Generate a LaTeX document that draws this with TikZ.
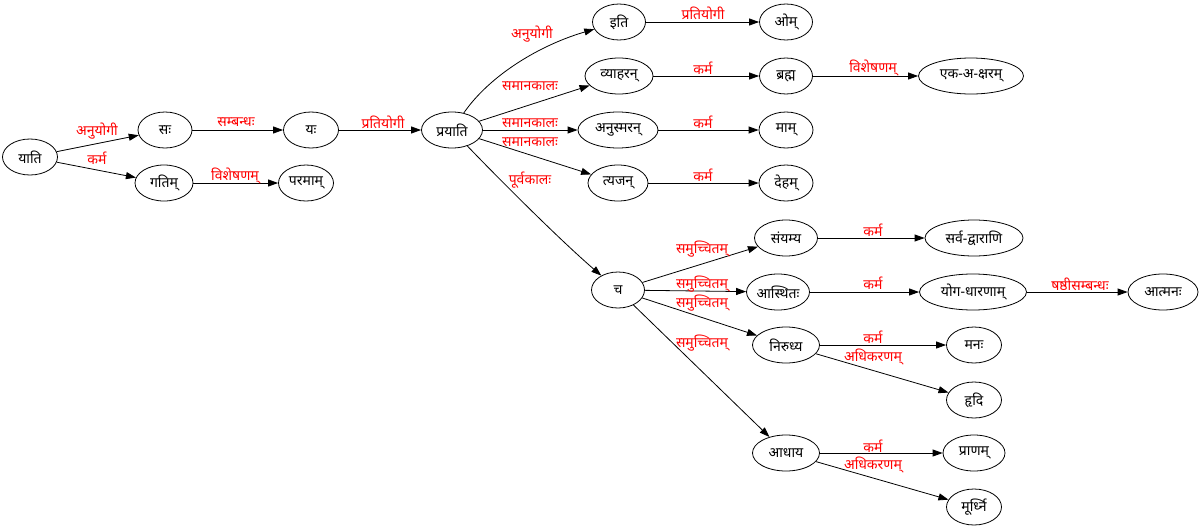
\documentclass[tikz,border=0pt]{standalone}
\usepackage{fontspec}
\setmainfont{Noto Sans}[Script=Devanagari]
\usetikzlibrary{arrows.meta,shapes.geometric}

\tikzset{
  word/.style={ellipse,draw,line width=0.8pt,inner sep=0pt,minimum height=36pt,minimum width=#1},
  word/.default=54pt,
  lbl/.style={text=red,inner sep=0pt}
}

\begin{document}
\begin{tikzpicture}[x=1pt,y=-1pt,>={Triangle[length=10pt,width=7pt]},
  every node/.style={font=\fontsize{14}{16}\selectfont}]
\useasboundingbox (0,0) rectangle (1204,530);
\foreach \n/\x/\y/\w/\t in {
  yati/30/157/55pt/याति, sah/165/130/54pt/सः, yah/311/130/55pt/यः,
  gatim/164/183/58pt/गतिम्, paramam/306/183/55pt/परमाम्,
  prayati/452/130/61pt/प्रयाति, iti/619/22/53pt/इति, om/786/22/53pt/ओम्,
  vyaharan/619/76/68pt/व्याहरन्, brahma/786/76/53pt/ब्रह्म,
  ekaksaram/971/76/105pt/एक-अ-क्षरम्,
  anusmaran/618/130/80pt/अनुस्मरन्, mam/786/130/54pt/माम्,
  tyajan/618/183/60pt/त्यजन्, deham/786/183/54pt/देहम्,
  ca/618/290/53pt/च, samyamya/786/238/63pt/संयम्य,
  sarvadvarani/974/238/98pt/सर्व-द्वाराणि,
  asthitah/778/292/63pt/आस्थितः, yogadharanam/973/292/107pt/योग-धारणाम्,
  atmanah/1163/292/70pt/आत्मनः,
  nirudhya/786/345/67pt/निरुध्य, manah/974/345/55pt/मनः, hrdi/974/400/55pt/हृदि,
  adhaya/786/453/67pt/आधाय, pranam/974/453/62pt/प्राणम्, murdhni/974/507/55pt/मूर्ध्नि}
  \node[word=\w] (\n) at (\x,\y) {\t};

\foreach \a/\b/\lx/\ly/\l in {
  yati/sah/97/131/अनुयोगी, yati/gatim/97/158/कर्म,
  sah/yah/236/122/सम्बन्धः, gatim/paramam/235/176/विशेषणम्,
  yah/prayati/383/122/प्रतियोगी, iti/om/703/13/प्रतियोगी,
  prayati/vyaharan/530/86/समानकालः, prayati/anusmaran/530/123/समानकालः,
  prayati/tyajan/530/142/समानकालः,
  vyaharan/brahma/703/68/कर्म, brahma/ekaksaram/873/68/विशेषणम्,
  anusmaran/mam/703/122/कर्म, tyajan/deham/703/175/कर्म,
  ca/samyamya/702/249/समुच्चितम्, ca/asthitah/702/284/समुच्चितम्,
  ca/nirudhya/702/303/समुच्चितम्, ca/adhaya/702/343/समुच्चितम्,
  samyamya/sarvadvarani/873/230/कर्म, asthitah/yogadharanam/873/283/कर्म,
  yogadharanam/atmanah/1080/284/षष्ठीसम्बन्धः,
  nirudhya/manah/873/337/कर्म, nirudhya/hrdi/873/357/अधिकरणम्,
  adhaya/pranam/873/446/कर्म, adhaya/murdhni/873/465/अधिकरणम्}
  \draw[->,line width=0.8pt] (\a) -- (\b) node[lbl] at (\lx,\ly) {\l};

\draw[->,line width=0.8pt] (prayati) .. controls (490,75) and (540,45) .. (iti)
  node[lbl] at (532,34) {अनुयोगी};
\draw[->,line width=0.8pt] (prayati) .. controls (500,180) and (560,240) .. (ca)
  node[lbl] at (530,180) {पूर्वकालः};
\end{tikzpicture}
\end{document}
